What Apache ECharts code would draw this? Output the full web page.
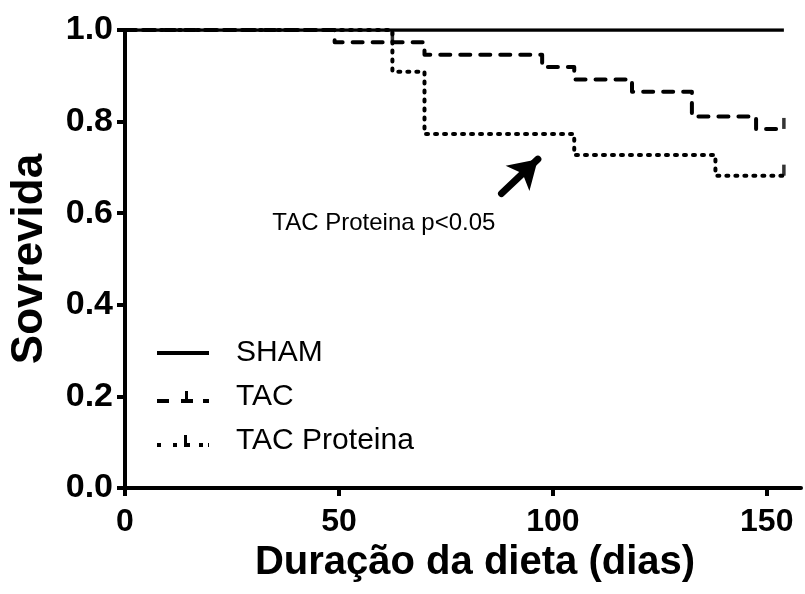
<!DOCTYPE html>
<html>
<head>
<meta charset="utf-8">
<script src="https://cdn.jsdelivr.net/npm/echarts@6/dist/echarts.min.js"></script>
<style>
  html, body { margin: 0; padding: 0; background: #fff; }
  #chart { width: 805px; height: 594px; }
</style>
</head>
<body>
<div id="chart"></div>
<script>
// Kaplan-Meier survival by diet duration (days)
const shamTime = [0, 154];
const shamSurv = [1, 1];

const tacTime = [0, 49, 70, 97.5, 105, 118.5, 132.5, 147.5, 154];
const tacSurv = [1, 0.973, 0.946, 0.919, 0.892, 0.865, 0.811, 0.784, 0.784];

const protTime = [0, 62.5, 70, 105, 138, 154];
const protSurv = [1, 0.909, 0.773, 0.727, 0.682, 0.682];

// censored observations (small upward ticks)
const tacCensorTime = [62.5, 154];
const tacCensorSurv = [0.973, 0.784];
const protCensorTime = [154];
const protCensorSurv = [0.682];

const xTicks = [0, 50, 100, 150];
const yTicks = [0, 0.2, 0.4, 0.6, 0.8, 1.0];

const seriesNames = ['SHAM', 'TAC', 'TAC Proteina'];
const noteText = 'TAC Proteina p<0.05';
const notePos = [60.5, 0.578];
const arrowFrom = [88, 0.643];
const arrowTo = [96.5, 0.718];

const zip = (xs, ys) => xs.map((x, i) => [x, ys[i]]);

const FONT = '"Liberation Sans", Arial, Helvetica, sans-serif';

// legend glyphs: solid bar, dash with censor tick, dots with censor tick
const iconSham = 'path://M0,8L52,8L52,12L0,12Z';
const iconTac = 'path://M0,8L12,8L12,12L0,12Z M24,8L36,8L36,12L24,12Z M28,0L31,0L31,8L28,8Z M46,8L52,8L52,12L46,12Z';
const iconProt = 'path://M0,8L4,8L4,12L0,12Z M16,8L20,8L20,12L16,12Z M27,0L30,0L30,12L27,12Z M30,8L33,8L33,12L30,12Z M42,8L46,8L46,12L42,12Z M51,8L52,8L52,12L51,12Z';

const chart = echarts.init(document.getElementById('chart'), null, { renderer: 'canvas' });

chart.setOption({
  animation: false,
  backgroundColor: '#ffffff',
  grid: { left: 125, right: 4, top: 30, bottom: 106, containLabel: false, outerBoundsMode: 'none' },
  legend: {
    orient: 'vertical',
    left: 152,
    top: 333,
    itemWidth: 52,
    itemHeight: 12,
    itemGap: 14,
    selectedMode: false,
    data: [
      { name: seriesNames[0], icon: iconSham },
      { name: seriesNames[1], icon: iconTac },
      { name: seriesNames[2], icon: iconProt }
    ],
    itemStyle: { color: '#000', borderWidth: 0 },
    textStyle: { fontFamily: FONT, fontSize: 30, color: '#000', padding: [0, 0, 0, 22] }
  },
  xAxis: {
    type: 'value',
    min: 0,
    max: 158,
    interval: 50,
    name: 'Duração da dieta (dias)',
    nameLocation: 'middle',
    nameGap: 50,
    nameTextStyle: { fontFamily: FONT, fontWeight: 'bold', fontSize: 40, color: '#000', padding: [0, 0, 0, 24] },
    axisLine: { onZero: false, lineStyle: { color: '#000', width: 4 } },
    axisTick: { length: 8, lineStyle: { color: '#000', width: 4 } },
    axisLabel: {
      margin: 18,
      fontFamily: FONT, fontWeight: 'bold', fontSize: 32, color: '#000',
      showMaxLabel: false,
      formatter: v => (xTicks.indexOf(v) >= 0 ? String(v) : '')
    },
    splitLine: { show: false }
  },
  yAxis: {
    type: 'value',
    min: 0,
    max: 1,
    interval: 0.2,
    name: 'Sovrevida',
    nameLocation: 'middle',
    nameGap: 73,
    nameRotate: 90,
    nameTextStyle: { fontFamily: FONT, fontWeight: 'bold', fontSize: 44, color: '#000' },
    axisLine: { show: true, onZero: false, lineStyle: { color: '#000', width: 4 } },
    axisTick: { show: true, length: 8, lineStyle: { color: '#000', width: 4 } },
    axisLabel: {
      margin: 12,
      fontFamily: FONT, fontWeight: 'bold', fontSize: 34, color: '#000',
      formatter: v => {
        const t = yTicks.find(k => Math.abs(k - v) < 1e-9);
        return t === undefined ? '' : t.toFixed(1);
      }
    },
    splitLine: { show: false }
  },
  series: [
    {
      name: seriesNames[0],
      type: 'line',
      step: 'end',
      data: zip(shamTime, shamSurv),
      showSymbol: false,
      symbol: 'none',
      itemStyle: { color: '#000' },
      lineStyle: { color: '#000', width: 3.5, cap: 'butt' },
      z: 3
    },
    {
      name: seriesNames[1],
      type: 'line',
      step: 'end',
      data: zip(tacTime, tacSurv),
      showSymbol: false,
      symbol: 'none',
      itemStyle: { color: '#000' },
      lineStyle: { color: '#000', width: 4, type: [10, 10], cap: 'round', join: 'round' },
      z: 2
    },
    {
      name: seriesNames[2],
      type: 'line',
      step: 'end',
      data: zip(protTime, protSurv),
      showSymbol: false,
      symbol: 'none',
      itemStyle: { color: '#000' },
      lineStyle: { color: '#000', width: 4, type: [2, 7], cap: 'round', join: 'round' },
      z: 2,
      markPoint: {
        silent: true,
        symbol: 'circle',
        symbolSize: 0,
        data: [{ coord: notePos, value: noteText }],
        label: {
          show: true,
          position: 'inside',
          formatter: noteText,
          fontFamily: FONT, fontSize: 24, color: '#000'
        }
      },
      markLine: {
        silent: true,
        symbol: ['none', 'arrow'],
        symbolSize: [26, 28],
        lineStyle: { color: '#000', width: 7, type: 'solid', cap: 'round' },
        label: { show: false },
        data: [[{ coord: arrowFrom }, { coord: arrowTo }]]
      }
    },
    {
      name: 'TAC censored',
      type: 'scatter',
      data: zip(tacCensorTime, tacCensorSurv),
      symbol: 'rect',
      symbolSize: [3.5, 11],
      symbolOffset: [0, -5.5],
      itemStyle: { color: '#000' },
      z: 4
    },
    {
      name: 'TAC Proteina censored',
      type: 'scatter',
      data: zip(protCensorTime, protCensorSurv),
      symbol: 'rect',
      symbolSize: [3.5, 11],
      symbolOffset: [0, -5.5],
      itemStyle: { color: '#000' },
      z: 4
    }
  ]
});
</script>
</body>
</html>
